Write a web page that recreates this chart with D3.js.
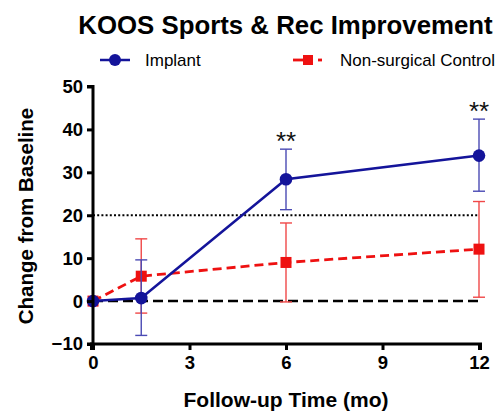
<!DOCTYPE html>
<html><head><meta charset="utf-8">
<script src="https://cdn.jsdelivr.net/npm/d3@7"></script>
<style>body{margin:0;background:#fff}svg{display:block}</style>
</head><body>
<svg id="c" width="504" height="413"></svg>
<script>
const months = [0, 1.5, 6, 12];
const implantMean = [0, 0.7, 28.4, 33.9];
const implantLow = [0, -8.0, 21.3, 25.6];
const implantHigh = [0, 9.6, 35.4, 42.4];
const controlMean = [0, 5.8, 9.0, 12.1];
const controlLow = [0, -2.8, -0.2, 0.9];
const controlHigh = [0, 14.5, 18.2, 23.2];
const xTicks = [0, 3, 6, 9, 12];
const yTicks = [-10, 0, 10, 20, 30, 40, 50];
const sigMonths = [6, 12];
const sigLabel = "**";

const svg = d3.select("#c");
const font = "Liberation Sans, Arial, sans-serif";
const x = d3.scaleLinear().domain([0, 12]).range([93, 479]);
const y = d3.scaleLinear().domain([-10, 50]).range([344, 86.5]);
const blue = "#14149a", red = "#ee1111";

svg.append("text").attr("x", 285.5).attr("y", 34).attr("text-anchor", "middle")
  .attr("font-family", font).attr("font-weight", "bold").attr("font-size", 25.8)
  .text("KOOS Sports & Rec Improvement");

// reference lines
svg.append("line").attr("x1", x(0)).attr("x2", x(12)).attr("y1", y(20)).attr("y2", y(20))
  .attr("stroke", "#000").attr("stroke-width", 2).attr("stroke-dasharray", "2,2.2");
svg.append("line").attr("x1", x(0)).attr("x2", x(12)).attr("y1", y(0)).attr("y2", y(0))
  .attr("stroke", "#000").attr("stroke-width", 2.5).attr("stroke-dasharray", "10,5");

function series(mean, lo, hi, col, errCol, dash, width, shape) {
  const g = svg.append("g");
  const pts = months.map((m, i) => ({m, v: mean[i], lo: lo[i], hi: hi[i]}));
  pts.filter(d => d.hi !== d.lo).forEach(d => {
    g.append("line").attr("x1", x(d.m)).attr("x2", x(d.m)).attr("y1", y(d.lo)).attr("y2", y(d.hi))
      .attr("stroke", errCol).attr("stroke-width", 1.4);
    [d.lo, d.hi].forEach(v => g.append("line").attr("x1", x(d.m) - 6).attr("x2", x(d.m) + 6)
      .attr("y1", y(v)).attr("y2", y(v)).attr("stroke", errCol).attr("stroke-width", 1.4));
  });
  g.append("path").attr("d", d3.line().x(d => x(d.m)).y(d => y(d.v))(pts))
    .attr("fill", "none").attr("stroke", col).attr("stroke-width", width)
    .attr("stroke-dasharray", dash);
  pts.forEach(d => {
    if (shape === "circle") g.append("circle").attr("cx", x(d.m)).attr("cy", y(d.v)).attr("r", 6.3).attr("fill", col);
    else g.append("rect").attr("x", x(d.m) - 5.5).attr("y", y(d.v) - 5.5).attr("width", 11).attr("height", 11).attr("fill", col);
  });
}
series(controlMean, controlLow, controlHigh, red, "#f04848", "9,5", 2.8, "rect");
series(implantMean, implantLow, implantHigh, blue, "#4a4ab4", null, 2.5, "circle");

// significance
sigMonths.forEach(m => {
  const i = months.indexOf(m);
  svg.append("text").attr("x", x(m)).attr("y", y(implantHigh[i]) + 1).attr("text-anchor", "middle")
    .attr("font-family", font).attr("font-size", 26).attr("fill", "#111").text(sigLabel);
});

// axes
const xa = svg.append("g").attr("transform", `translate(0,${y(-10)})`)
  .call(d3.axisBottom(x).tickValues(xTicks).tickSize(6).tickPadding(6).tickFormat(d3.format("d")));
const ya = svg.append("g").attr("transform", `translate(${x(0)},0)`)
  .call(d3.axisLeft(y).tickValues(yTicks).tickSize(6).tickPadding(4).tickFormat(d3.format("d")));
[xa, ya].forEach(a => {
  a.select(".domain").attr("stroke", "#000").attr("stroke-width", 3);
  a.selectAll(".tick line").attr("stroke", "#000").attr("stroke-width", 3);
  a.selectAll("text").attr("font-family", font).attr("font-weight", "bold").attr("font-size", 18.5).attr("fill", "#000");
});
xa.select(".domain").attr("d", `M${x(0)-1.5},6V0H${x(12)+1.5}V6`);
ya.select(".domain").attr("d", `M-6,${y(50)}H0V${y(-10)}H-6`);

svg.append("text").attr("x", 286).attr("y", 407).attr("text-anchor", "middle")
  .attr("font-family", font).attr("font-weight", "bold").attr("font-size", 21)
  .text("Follow-up Time (mo)");
svg.append("text").attr("transform", "translate(33,216) rotate(-90)").attr("text-anchor", "middle")
  .attr("font-family", font).attr("font-weight", "bold").attr("font-size", 20.5)
  .text("Change from Baseline");

// legend
const lg = svg.append("g");
lg.append("line").attr("x1", 100).attr("x2", 130).attr("y1", 60).attr("y2", 60).attr("stroke", blue).attr("stroke-width", 2.5);
lg.append("circle").attr("cx", 115).attr("cy", 60).attr("r", 6).attr("fill", blue);
lg.append("text").attr("x", 145).attr("y", 66).attr("font-family", font).attr("font-size", 17).text("Implant");
lg.append("line").attr("x1", 293).attr("x2", 312).attr("y1", 60).attr("y2", 60).attr("stroke", red).attr("stroke-width", 2.8);
lg.append("line").attr("x1", 318).attr("x2", 322).attr("y1", 60).attr("y2", 60).attr("stroke", red).attr("stroke-width", 2.8);
lg.append("rect").attr("x", 303).attr("y", 55).attr("width", 10).attr("height", 10).attr("fill", red);
lg.append("text").attr("x", 340).attr("y", 66).attr("font-family", font).attr("font-size", 17).text("Non-surgical Control");
</script>
</body></html>
